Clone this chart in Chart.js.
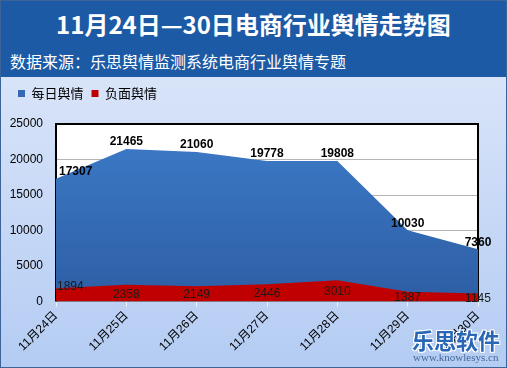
<!DOCTYPE html>
<html>
<head>
<meta charset="utf-8">
<script src="https://cdn.jsdelivr.net/npm/chart.js@4"></script>
<style>
    body { margin: 0; }
    #wrap { position: relative; width: 507px; height: 368px; overflow: hidden;
        background: linear-gradient(#e2eafa, #b4ccf3); font-family: "Noto Sans CJK SC", sans-serif; }
    #banner { position: absolute; left: 0; top: 0; width: 507px; height: 77px; background: #1c5aa5; color: #fff; }
    #title { position: absolute; left: 0; width: 507px; top: 7px; text-align: center; font-size: 24px; font-weight: bold; line-height: 34px; }
    #sub { position: absolute; left: 10px; top: 50px; font-size: 16px; line-height: 22px; }
    #box { position: absolute; left: 0; top: 77px; width: 507px; height: 291px; }
    #logo { position: absolute; left: 412px; top: 327px; font-size: 22px; line-height: 24px; font-weight: bold; color: #2a66b6; white-space: nowrap;
        text-shadow: 1px 1px 0 #fff, -1px -1px 0 #fff, 1px -1px 0 #fff, -1px 1px 0 #fff; }
    #url { position: absolute; left: 413px; top: 351px; font-family: "Liberation Serif", serif; font-size: 11px; color: #44689a; white-space: nowrap; }
    #frame { position: absolute; left: 0; top: 0; width: 505px; height: 366px; border: 1px solid #3d6497; }
</style>
</head>
<body>
<div id="wrap">
    <div id="banner">
        <div id="title">11月24日—30日电商行业舆情走势图</div>
        <div id="sub">数据来源：乐思舆情监测系统电商行业舆情专题</div>
    </div>
    <div id="box"><canvas id="chart"></canvas></div>
    <div id="logo">乐思软件</div>
    <div id="url">www.knowlesys.cn</div>
    <div id="frame"></div>
</div>
<script>
const days = ["11月24日", "11月25日", "11月26日", "11月27日", "11月28日", "11月29日", "11月30日"];
const daily = [17307, 21465, 21060, 19778, 19808, 10030, 7360];
const negative = [1894, 2358, 2149, 2446, 3010, 1387, 1145];
const yTicks = [0, 5000, 10000, 15000, 20000, 25000];

// extra room under the legend
const legendGap = {
    id: 'legendGap',
    beforeInit(chart) {
        const fit = chart.legend.fit;
        chart.legend.fit = function () {
            fit.bind(chart.legend)();
            this.height += 14;
        };
    }
};

// white plot area with black frame (top/left/right), under the areas
const plotBg = {
    id: 'plotBg',
    beforeDraw(chart) {
        const { ctx, chartArea: a } = chart;
        ctx.save();
        ctx.fillStyle = '#fff';
        ctx.fillRect(a.left, a.top, a.right - a.left, a.bottom - a.top);
        ctx.restore();
    },
    beforeDatasetsDraw(chart) {
        const { ctx, chartArea: a } = chart;
        ctx.save();
        ctx.strokeStyle = '#000';
        ctx.lineWidth = 2;
        ctx.beginPath();
        ctx.moveTo(a.left, a.bottom);
        ctx.lineTo(a.left, a.top);
        ctx.lineTo(a.right, a.top);
        ctx.lineTo(a.right, a.bottom);
        ctx.stroke();
        ctx.restore();
    }
};

// value labels
const valueLabels = {
    id: 'valueLabels',
    afterDraw(chart) {
        const ctx = chart.ctx;
        const base = chart.scales.y.getPixelForValue(0);
        ctx.save();
        ctx.fillStyle = '#000';
        ctx.textBaseline = 'middle';
        chart.getDatasetMeta(0).data.forEach((p, i) => {
            ctx.font = 'bold 12px "Liberation Sans"';
            ctx.textAlign = i === 0 ? 'left' : 'center';
            ctx.fillText(daily[i], i === 0 ? p.x + 3 : p.x, p.y - 7);
        });
        chart.getDatasetMeta(1).data.forEach((p, i) => {
            ctx.font = '12px "Liberation Sans"';
            ctx.fillStyle = '#1a1a1a';
            if (i === 0) {
                ctx.textAlign = 'left';
                ctx.fillText(negative[i], p.x + 1, p.y - 1);
            } else {
                ctx.textAlign = 'center';
                ctx.fillText(negative[i], p.x, (p.y + base) / 2 + 1);
            }
        });
        ctx.restore();
    }
};

function blueFill(c) {
    const a = c.chart.chartArea;
    if (!a) return '#3669b4';
    const g = c.chart.ctx.createLinearGradient(0, a.top, 0, a.bottom);
    g.addColorStop(0, '#3d7bc9');
    g.addColorStop(1, '#2d5ea4');
    return g;
}

new Chart(document.getElementById('chart'), {
    type: 'line',
    data: {
        labels: days,
        datasets: [{
            label: '每日舆情',
            data: daily,
            fill: 'origin',
            backgroundColor: blueFill,
            borderWidth: 0,
            pointRadius: 0,
            order: 1
        }, {
            label: '负面舆情',
            data: negative,
            fill: 'origin',
            backgroundColor: '#c00000',
            borderWidth: 0,
            pointRadius: 0,
            order: 0
        }]
    },
    options: {
        responsive: true,
        maintainAspectRatio: false,
        animation: false,
        layout: { padding: { left: 10, right: 29, top: 2, bottom: 12 } },
        plugins: {
            legend: {
                align: 'start',
                labels: {
                    boxWidth: 7,
                    boxHeight: 7,
                    padding: 8,
                    color: '#000',
                    font: { size: 13, family: '"Noto Sans CJK SC"' },
                    generateLabels(chart) {
                        return chart.data.datasets.map((d, i) => ({
                            text: d.label,
                            fillStyle: i === 0 ? '#3669b4' : '#c00000',
                            strokeStyle: 'transparent',
                            lineWidth: 0,
                            datasetIndex: i
                        }));
                    }
                }
            },
            tooltip: { enabled: false }
        },
        scales: {
            x: {
                offset: false,
                z: 1,
                afterFit(scale) { scale.paddingLeft = 0; scale.paddingRight = 0; },
                grid: { color: '#fff', borderDash: [3, 3], tickLength: 5, tickColor: '#eef3fb' },
                border: { color: '#8a8a8a', width: 1 },
                ticks: {
                    color: '#000',
                    maxRotation: 45,
                    minRotation: 45,
                    padding: 2,
                    font: { size: 12, family: '"Liberation Sans", "Noto Sans CJK SC"' }
                }
            },
            y: {
                min: 0,
                max: 25000,
                afterBuildTicks(axis) { axis.ticks = yTicks.map(v => ({ value: v })); },
                afterFit(axis) { axis.width = 46; },
                grid: { color: '#b5b5b5', borderDash: [4, 3], drawTicks: false },
                border: { display: false },
                ticks: {
                    color: '#000',
                    padding: 13,
                    callback: v => String(v),
                    font: { size: 12, family: '"Liberation Sans"' }
                }
            }
        }
    },
    plugins: [legendGap, plotBg, valueLabels]
});
</script>
</body>
</html>
